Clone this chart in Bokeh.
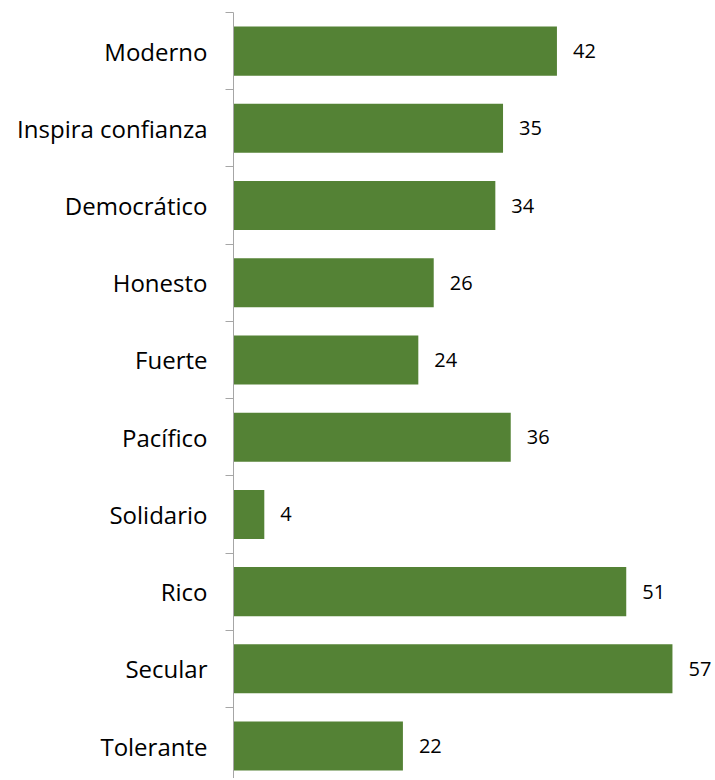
from bokeh.plotting import figure
from bokeh.models import ColumnDataSource, Range1d, FixedTicker
from bokeh.core.properties import value
from bokeh.embed import file_html
from bokeh.resources import INLINE

categories = ["Moderno", "Inspira confianza", "Democrático", "Honesto", "Fuerte",
              "Pacífico", "Solidario", "Rico", "Secular", "Tolerante"]
values = [42, 35, 34, 26, 24, 36, 4, 51, 57, 22]

pos = list(range(len(categories)))
src = ColumnDataSource(dict(y=pos, v=values, lab=[str(v) for v in values]))

p = figure(width=712, height=778, output_backend="svg", toolbar_location=None,
           x_range=Range1d(0, 62.2), y_range=Range1d(9.42, -0.5),
           min_border_left=233, min_border_right=0, min_border_top=12, min_border_bottom=0)
p.outline_line_color = None
p.xgrid.visible = False
p.ygrid.visible = False
p.xaxis.visible = False

p.hbar(y="y", right="v", left=0, height=0.635, source=src,
       fill_color="#548235", line_color=None)
p.text(x="v", y="y", text="lab", source=src, x_offset=16, text_baseline="middle",
       text_align="left", text_font=value("Open Sans"), text_font_size="20px",
       text_color="#000000")

yax = p.yaxis[0]
yax.ticker = FixedTicker(ticks=pos, minor_ticks=[i - 0.5 for i in range(len(categories) + 1)])
yax.major_label_overrides = {i: c for i, c in enumerate(categories)}
yax.major_tick_out = 0
yax.major_tick_in = 0
yax.minor_tick_out = 8
yax.minor_tick_in = 0
yax.minor_tick_line_color = "#A6A6A6"
yax.axis_line_color = "#A6A6A6"
yax.major_label_standoff = 18
yax.major_label_text_font = "Open Sans"
yax.major_label_text_font_size = "24px"
yax.major_label_text_color = "#000000"

open("out.html", "w").write(file_html(p, INLINE))
